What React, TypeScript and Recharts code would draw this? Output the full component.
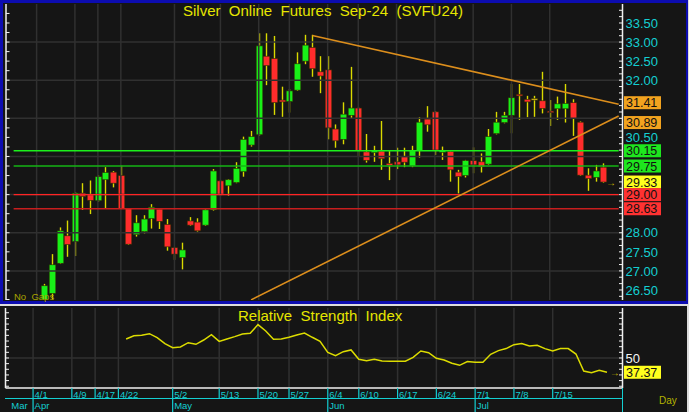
import React from "react";
import { Bar, ComposedChart, Line, ReferenceDot, ReferenceLine, XAxis, YAxis } from "recharts";

const FONT = '"Liberation Sans", Arial, Helvetica, sans-serif';
const BG = "#151515";
const GRID = "#303030";
const UP = "#18f018";
const DOWN = "#ff2c2c";
const WICK = "#dada00";
const CYAN = "#14cfd2";
const AXIS = "#f0f0f0";
const TREND = "#dc8e1c";

// one slot per bar across the panel; slot 3 is 4/1
const SLOT_COUNT = 80;
const FIRST_CANDLE_SLOT = 4;
const FIRST_RSI_SLOT = 15;

const opens = [
  26.25, 26.41, 27.2, 27.92, 27.77, 29.04, 29.01, 28.84, 29.39, 29.59,
  29.5, 28.63, 27.95, 28.03, 28.37, 28.62, 28.22, 27.61, 27.35, 28.31,
  28.28, 28.2, 28.6, 29.36, 29.23, 29.32, 29.6, 30.3, 30.57, 32.63,
  32.57, 31.48, 31.44, 31.74, 32.5, 32.86, 32.22, 32.27, 30.72, 30.45,
  31.08, 31.27, 30.12, 30.1, 30.14, 29.82, 29.86, 29.99, 29.75, 30.15,
  30.98, 31.17, 30.12, 30.13, 29.59, 29.5, 29.89, 29.86, 29.8, 30.6,
  30.89, 31.08, 31.63, 31.5, 31.52, 31.46, 31.19, 31.25, 31.25, 31.41,
  30.9, 29.51, 29.45, 29.72,
];
const highs = [
  26.66, 27.44, 28.14, 28.32, 29.06, 29.3, 29.37, 29.5, 29.72, 29.62,
  29.76, 28.65, 28.46, 28.46, 28.75, 28.64, 28.36, 27.63, 27.74, 28.41,
  28.38, 28.62, 29.67, 29.38, 29.41, 29.85, 30.52, 30.67, 33.23, 33.23,
  33.16, 31.83, 31.77, 32.73, 33.19, 33.19, 32.63, 32.63, 30.84, 31.42,
  32.35, 31.29, 30.59, 30.28, 30.93, 30.14, 30.23, 30.23, 30.28, 31.03,
  31.32, 31.19, 30.26, 30.15, 29.65, 29.91, 30.24, 30.08, 30.72, 31.17,
  31.17, 31.9, 31.9, 31.59, 31.59, 32.22, 31.48, 31.57, 31.9, 31.5,
  30.92, 29.69, 29.78, 29.82,
];
const lows = [
  26.24, 26.25, 27.18, 27.37, 27.39, 28.6, 28.49, 28.82, 28.63, 29.19,
  28.62, 27.68, 27.9, 27.98, 28.11, 28.1, 27.53, 27.29, 27.04, 28.18,
  28.03, 28.18, 28.58, 28.97, 28.97, 29.3, 29.47, 30.26, 30.55, 31.87,
  31.09, 31.04, 31.15, 31.72, 32.42, 32.09, 31.66, 30.45, 30.23, 30.32,
  30.99, 29.99, 29.84, 29.86, 29.65, 29.38, 29.67, 29.72, 29.72, 29.97,
  30.65, 30.04, 29.91, 29.34, 29.03, 29.45, 29.56, 29.58, 29.78, 30.58,
  30.87, 30.61, 30.96, 31.03, 31.04, 31.13, 30.8, 30.96, 30.89, 30.54,
  29.49, 29.1, 29.34, 29.31,
];
const closes = [
  26.61, 27.16, 28.05, 27.69, 29.04, 28.95, 28.85, 29.47, 29.58, 29.3,
  28.63, 27.7, 28.26, 28.36, 28.67, 28.3, 27.63, 27.44, 27.55, 28.2,
  28.05, 28.6, 29.62, 28.99, 29.39, 29.69, 30.45, 30.52, 32.9, 32.38,
  31.41, 31.43, 31.72, 32.43, 32.92, 32.3, 32.11, 30.75, 30.41, 31.11,
  31.27, 30.15, 29.9, 30.15, 29.94, 29.77, 29.78, 29.85, 30.15, 30.9,
  30.83, 30.17, 30.15, 29.65, 29.47, 29.89, 29.78, 29.73, 30.52, 30.9,
  31.08, 31.54, 31.59, 31.43, 31.52, 31.26, 31.15, 31.38, 31.39, 31.0,
  29.51, 29.42, 29.62, 29.33,
];

const rsiValues = [
  66.8, 69.7, 70.1, 71.5, 68.0, 62.7, 59.1, 59.7, 63.5, 62.1,
  65.9, 70.6, 64.7, 66.8, 68.9, 71.2, 71.8, 79.5, 73.9, 66.5,
  66.8, 68.3, 70.4, 72.1, 68.3, 64.8, 55.0, 52.0, 55.6, 57.1,
  48.8, 47.6, 48.8, 47.3, 47.1, 47.1, 47.1, 50.6, 56.2, 54.7,
  49.7, 48.2, 45.3, 43.5, 46.8, 46.2, 46.2, 53.3, 56.5, 58.3,
  61.8, 62.7, 60.6, 61.2, 58.3, 56.2, 58.3, 58.3, 53.5, 38.5,
  37.0, 39.1, 37.37,
];

const dayTickSlots = [3, 8, 11, 14, 21, 27, 32, 36, 41, 45, 50, 55, 60, 65, 70];
const dayTickLabels = ["4/1", "4/9", "4/17", "4/22", "5/2", "5/13", "5/20", "5/27", "6/4", "6/10", "6/17", "6/24", "7/1", "7/8", "7/15"];
const monthSlots = [0, 3, 21, 41, 60];
const monthLabels = ["Mar", "Apr", "May", "Jun", "Jul"];

const priceLabels = [26.5, 27, 27.5, 28, 28.5, 29, 29.5, 30, 30.5, 31, 31.5, 32, 32.5, 33, 33.5];
const priceGrid = [27, 28, 29, 30, 31, 32, 33];

const levelValues = [31.41, 30.89, 30.15, 29.75, 29.33, 29.0, 28.63];
const levelFills = ["#f2a31f", "#f2a31f", "#1ee61e", "#1ee61e", "#ffff1e", "#ff3232", "#ff3232"];

const levelLines = [30.15, 29.75, 29.0, 28.63];
const levelLineColors = ["#1cf01c", "#14b414", "#ff2424", "#c81e1e"];

const trendFromSlot = [39, 31];
const trendFromPrice = [33.17, 26.24];
const trendToSlot = [79, 79];
const trendToPrice = [31.37, 31.06];

const rsiLabels = [50];
const rsiLast = 37.37;
const lastPrice = 29.33;

const PRICE_MIN = 26.237;
const PRICE_MAX = 33.998;
const RSI_MIN = 23.45;
const RSI_MAX = 94.2;

// axis labels that sit under a value box are not drawn
const shownPriceLabels = priceLabels.filter((v) => levelValues.every((lv) => Math.abs(lv - v) > 0.2));

const minorPriceTicks: number[] = [];
for (let k = 0; 26.3333 + k / 6 < PRICE_MAX; k++) minorPriceTicks.push(26.3333 + k / 6);
const leftPriceTicks: number[] = [];
for (let v = 26.25; v < PRICE_MAX; v += 0.25) leftPriceTicks.push(v);
const rsiMinorTicks: number[] = [];
for (let v = 25; v <= 90; v += 5) rsiMinorTicks.push(v);

const rows = Array.from({ length: SLOT_COUNT }, (_, i) => {
  const n = i - FIRST_CANDLE_SLOT;
  const has = n >= 0 && n < opens.length;
  const r = i - FIRST_RSI_SLOT;
  return {
    i,
    range: has ? [lows[n], highs[n]] : null,
    o: has ? opens[n] : null,
    h: has ? highs[n] : null,
    l: has ? lows[n] : null,
    c: has ? closes[n] : null,
    rsi: r >= 0 && r < rsiValues.length ? rsiValues[r] : null,
  };
});

function Candle(props: any) {
  const { x, y, width, height, payload } = props;
  if (!payload || payload.o == null) return null;
  const { o, h, l, c } = payload;
  const top = height >= 0 ? y : y + height;
  const span = Math.abs(height);
  const ppu = span / (h - l);
  const yOf = (v: number) => top + (h - v) * ppu;
  const cx = Math.round(x + width / 2) + 0.5;
  const bTop = yOf(Math.max(o, c));
  const bBot = yOf(Math.min(o, c));
  const fill = c > o ? UP : c < o ? DOWN : "#e6c21c";
  return (
    <g>
      <line x1={cx} x2={cx} y1={top} y2={top + span} stroke={WICK} strokeWidth={1.4} />
      <rect x={cx - 3.3} y={bTop} width={6.6} height={Math.max(bBot - bTop, 1.6)} fill={fill} stroke="#2c2c00" strokeWidth={0.6} />
    </g>
  );
}

function ValueBox({ x, y, fill, text }: { x: number; y: number; fill: string; text: string }) {
  return (
    <g>
      <rect x={x + 1.5} y={y - 6.5} width={37} height={13} fill={fill} />
      <text x={x + 3.5} y={y} dy="0.36em" fill="#111" fontSize={12.5} fontFamily={FONT}>
        {text}
      </text>
    </g>
  );
}

function MainRightTick(p: any) {
  const { x, y, index } = p;
  const v = p.payload.value;
  const nMinor = minorPriceTicks.length;
  if (index < nMinor) return <line x1={x} x2={x - 3.5} y1={y} y2={y} stroke={AXIS} />;
  if (index < nMinor + shownPriceLabels.length)
    return (
      <text x={x + 3} y={y} dy="0.36em" fill={CYAN} fontSize={13} fontFamily={FONT}>
        {v.toFixed(2)}
      </text>
    );
  const li = index - nMinor - shownPriceLabels.length;
  return <ValueBox x={x} y={y} fill={levelFills[li]} text={v.toFixed(2)} />;
}

function LeftTick(p: any) {
  return <line x1={p.x} x2={p.x + 3.5} y1={p.y} y2={p.y} stroke={AXIS} />;
}

function RsiRightTick(p: any) {
  const { x, y, index } = p;
  const v = p.payload.value;
  const nMinor = rsiMinorTicks.length;
  if (index < nMinor) return <line x1={x} x2={x - 3.5} y1={y} y2={y} stroke={AXIS} />;
  if (index < nMinor + rsiLabels.length)
    return (
      <text x={x + 3} y={y} dy="0.36em" fill="#f4f4f4" fontSize={13} fontFamily={FONT}>
        {String(v)}
      </text>
    );
  return <ValueBox x={x} y={y} fill="#ffff1e" text={v.toFixed(2)} />;
}

function DateTick(p: any) {
  const { x, y } = p;
  const slot = p.payload.value;
  const di = dayTickSlots.indexOf(slot);
  const mi = monthSlots.indexOf(slot);
  return (
    <g>
      {di >= 0 && <line x1={x} x2={x} y1={y} y2={y + 10} stroke={CYAN} strokeWidth={1.2} />}
      {di >= 0 && (
        <text x={x + 1.5} y={y + 9.5} fill={CYAN} fontSize={9.5} fontFamily={FONT}>
          {dayTickLabels[di]}
        </text>
      )}
      {mi > 0 && <line x1={x} x2={x} y1={y + 10} y2={y + 24} stroke={CYAN} strokeWidth={1.2} />}
      {mi >= 0 && (
        <text x={x + 1.5} y={y + 20.5} fill={CYAN} fontSize={9.5} fontFamily={FONT}>
          {monthLabels[mi]}
        </text>
      )}
    </g>
  );
}

const arrowShape = (p: any) => (
  <text x={p.cx} y={p.cy} dy="0.35em" textAnchor="middle" fill="#c8b400" fontSize={10} fontFamily={FONT}>
    →
  </text>
);

export default function App() {
  return (
    <div style={{ position: "fixed", left: 0, top: 0, width: 689, height: 412, background: "#dcdcdc", overflow: "hidden", fontFamily: FONT }}>
      <div style={{ position: "absolute", left: 0, top: 0, width: 688, height: 304, background: BG }}>
        <ComposedChart width={688} height={304} data={rows} margin={{ top: 4, right: 0, bottom: 4, left: 0 }}>
          <XAxis dataKey="i" hide padding={{ left: 3.8, right: 0 }} />
          <YAxis
            yAxisId="l"
            width={6}
            type="number"
            domain={[PRICE_MIN, PRICE_MAX]}
            allowDataOverflow
            ticks={leftPriceTicks}
            interval={0}
            tickSize={0}
            tickMargin={0}
            tickLine={false}
            axisLine={{ stroke: AXIS, strokeWidth: 1.5 }}
            tick={LeftTick}
          />
          <YAxis
            yAxisId="r"
            orientation="right"
            width={65.5}
            type="number"
            domain={[PRICE_MIN, PRICE_MAX]}
            allowDataOverflow
            ticks={[...minorPriceTicks, ...shownPriceLabels, ...levelValues]}
            interval={0}
            tickSize={0}
            tickMargin={0}
            tickLine={false}
            axisLine={{ stroke: AXIS, strokeWidth: 1.5 }}
            tick={MainRightTick}
          />
          {priceGrid.map((v) => (
            <ReferenceLine key={`hg${v}`} yAxisId="r" y={v} stroke={GRID} strokeWidth={1.5} />
          ))}
          {dayTickSlots.map((s) => (
            <ReferenceLine key={`vg${s}`} yAxisId="r" x={s} stroke={GRID} strokeWidth={1.5} />
          ))}
          <Bar yAxisId="r" dataKey="range" shape={Candle} isAnimationActive={false} />
          {levelLines.map((v, k) => (
            <ReferenceLine
              key={`lv${v}`}
              yAxisId="r"
              segment={[{ x: 0, y: v }, { x: SLOT_COUNT - 1, y: v }]}
              stroke={levelLineColors[k]}
              strokeWidth={k % 2 === 0 ? 1.3 : 1.7}
              ifOverflow="hidden"
            />
          ))}
          {trendFromSlot.map((s, k) => (
            <ReferenceLine
              key={`tr${k}`}
              yAxisId="r"
              segment={[{ x: s, y: trendFromPrice[k] }, { x: trendToSlot[k], y: trendToPrice[k] }]}
              stroke={TREND}
              strokeWidth={1.6}
              ifOverflow="hidden"
            />
          ))}
          <ReferenceDot yAxisId="r" x={SLOT_COUNT - 2} y={lastPrice} r={0} shape={arrowShape} ifOverflow="visible" />
        </ComposedChart>
      </div>

      <div style={{ position: "absolute", left: 0, top: 306, width: 687, height: 106, background: BG }}>
        <ComposedChart width={687} height={106} data={rows} margin={{ top: 2, right: 0, bottom: 0, left: 0 }}>
          <XAxis
            dataKey="i"
            height={24}
            padding={{ left: 4.3, right: 0 }}
            ticks={[0, ...dayTickSlots]}
            interval={0}
            tickSize={0}
            tickMargin={0}
            tickLine={false}
            axisLine={{ stroke: AXIS, strokeWidth: 1.5 }}
            tick={DateTick}
          />
          <YAxis
            yAxisId="l"
            width={5.5}
            type="number"
            domain={[RSI_MIN, RSI_MAX]}
            allowDataOverflow
            ticks={rsiMinorTicks}
            interval={0}
            tickSize={0}
            tickMargin={0}
            tickLine={false}
            axisLine={{ stroke: AXIS, strokeWidth: 1.5 }}
            tick={LeftTick}
          />
          <YAxis
            yAxisId="r"
            orientation="right"
            width={64.5}
            type="number"
            domain={[RSI_MIN, RSI_MAX]}
            allowDataOverflow
            ticks={[...rsiMinorTicks, ...rsiLabels, rsiLast]}
            interval={0}
            tickSize={0}
            tickMargin={0}
            tickLine={false}
            axisLine={{ stroke: AXIS, strokeWidth: 1.5 }}
            tick={RsiRightTick}
          />
          <ReferenceLine yAxisId="r" y={50} stroke={GRID} strokeWidth={1.5} />
          {dayTickSlots.map((s) => (
            <ReferenceLine key={`rvg${s}`} yAxisId="r" x={s} stroke={GRID} strokeWidth={1.5} />
          ))}
          <Line yAxisId="r" dataKey="rsi" stroke="#dcdc00" strokeWidth={1.5} dot={false} connectNulls={false} isAnimationActive={false} />
          <ReferenceDot yAxisId="r" x={SLOT_COUNT - 2} y={rsiLast} r={0} shape={arrowShape} ifOverflow="visible" />
        </ComposedChart>
      </div>

      <div style={{ position: "absolute", left: 0, top: 0, width: 688, height: 304, boxSizing: "border-box", borderStyle: "solid", borderColor: "#0c0cb0", borderWidth: "3px 2px 3px 3px", pointerEvents: "none" }} />
      <div style={{ position: "absolute", left: 183, top: 2, fontSize: 15, lineHeight: "18px", color: "#e6e600", whiteSpace: "pre" }}>
        {"Silver  Online  Futures  Sep-24  (SVFU24)"}
      </div>
      <div style={{ position: "absolute", left: 14, top: 291, fontSize: 9.5, lineHeight: "11px", color: "#aaa400", whiteSpace: "pre" }}>
        {"No  Gaps"}
      </div>
      <div style={{ position: "absolute", left: 238, top: 307, fontSize: 15, lineHeight: "18px", color: "#e6e600", whiteSpace: "pre" }}>
        {"Relative  Strength  Index"}
      </div>
      <div style={{ position: "absolute", left: 5, top: 398, width: 618, height: 1.2, background: CYAN }} />
      <div style={{ position: "absolute", left: 621.8, top: 388, width: 1.4, height: 24, background: CYAN }} />
      <div style={{ position: "absolute", left: 659, top: 395, fontSize: 10, lineHeight: "11px", color: "#b4b400" }}>Day</div>
    </div>
  );
}
